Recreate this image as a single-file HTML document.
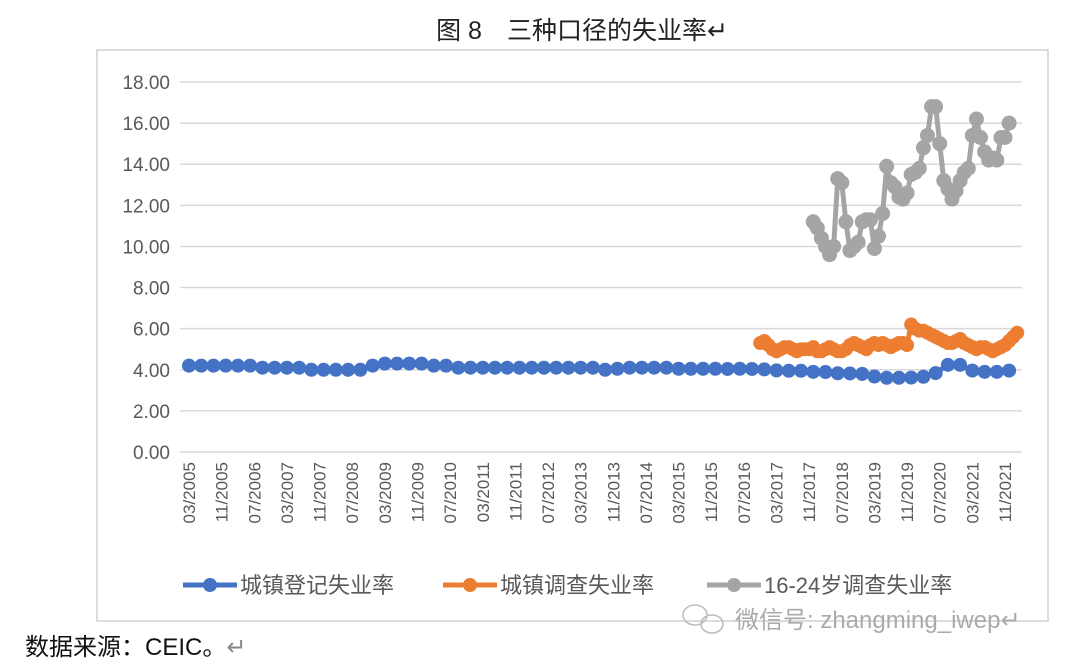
<!DOCTYPE html>
<html><head><meta charset="utf-8"><style>
body{margin:0;width:1080px;height:668px;background:#fff;overflow:hidden;font-family:"Liberation Sans","Noto Sans CJK SC",sans-serif;}
svg{position:absolute;left:0;top:0}
</style></head><body>
<svg id="c" width="1080" height="668">
<text x="582" y="39" font-size="25" text-anchor="middle" fill="#222" font-family="Liberation Sans,Noto Sans CJK SC,sans-serif">图 8　三种口径的失业率↵</text>
<rect x="97" y="50" width="951" height="571" fill="none" stroke="#d0d0d0" stroke-width="1.5"/>
<g id="grid"></g><g id="ylab"></g><g id="xlab"></g><g id="series"></g>
<g font-size="22" fill="#595959" font-family="Liberation Sans,Noto Sans CJK SC,sans-serif">
<g><line x1="183" y1="585" x2="237" y2="585" stroke="#4472c4" stroke-width="5"/><circle cx="210" cy="585" r="7" fill="#4472c4"/><text x="240" y="593">城镇登记失业率</text></g>
<g><line x1="443" y1="585" x2="497" y2="585" stroke="#ed7d31" stroke-width="5"/><circle cx="470" cy="585" r="7" fill="#ed7d31"/><text x="500" y="593">城镇调查失业率</text></g>
<g><line x1="707" y1="585" x2="761" y2="585" stroke="#a5a5a5" stroke-width="5"/><circle cx="734" cy="585" r="7" fill="#a5a5a5"/><text x="764" y="593">16-24岁调查失业率</text></g>
</g>
<text x="735" y="628" font-size="24" fill="#aaa" font-family="Liberation Sans,Noto Sans CJK SC,sans-serif">微信号: zhangming_iwep↵</text>
<g fill="none" stroke="#bbb" stroke-width="1.5"><ellipse cx="695" cy="615" rx="12" ry="10"/><ellipse cx="712" cy="624" rx="11" ry="9"/></g>
<text x="25" y="655" font-size="24" fill="#111" font-family="Liberation Sans,Noto Sans CJK SC,sans-serif">数据来源：CEIC。<tspan fill="#888">↵</tspan></text>
</svg>
<script>
const yTicks=[0,2,4,6,8,10,12,14,16,18];
const xTickLabels=["03/2005","11/2005","07/2006","03/2007","11/2007","07/2008","03/2009","11/2009","07/2010","03/2011","11/2011","07/2012","03/2013","11/2013","07/2014","03/2015","11/2015","07/2016","03/2017","11/2017","07/2018","03/2019","11/2019","07/2020","03/2021","11/2021"];
const registered=[4.2,4.2,4.2,4.2,4.2,4.2,4.1,4.1,4.1,4.1,4.0,4.0,4.0,4.0,4.0,4.2,4.3,4.3,4.3,4.3,4.2,4.2,4.1,4.1,4.1,4.1,4.1,4.1,4.1,4.1,4.1,4.1,4.1,4.1,4.0,4.05,4.1,4.1,4.1,4.1,4.05,4.05,4.05,4.05,4.04,4.05,4.04,4.02,3.97,3.95,3.95,3.9,3.89,3.83,3.82,3.8,3.67,3.61,3.61,3.62,3.66,3.84,4.24,4.24,3.96,3.9,3.9,3.96];
const registeredStart=0; // month index (0 = 03/2005), quarterly
const survey=[5.3,5.4,5.2,5.0,4.9,5.0,5.1,5.1,5.0,4.9,5.0,5.0,5.0,5.1,4.9,4.9,5.0,5.1,5.0,4.9,4.9,5.0,5.2,5.3,5.2,5.1,5.0,5.2,5.3,5.2,5.3,5.2,5.1,5.2,5.3,5.3,5.2,6.2,6.0,5.9,5.9,5.8,5.7,5.6,5.5,5.4,5.3,5.3,5.4,5.5,5.3,5.2,5.1,5.0,5.1,5.1,5.0,4.9,5.0,5.1,5.2,5.4,5.6,5.8];
const surveyStart=140;
const youth=[11.2,10.9,10.4,10.0,9.6,10.0,13.3,13.1,11.2,9.8,10.0,10.2,11.2,11.3,11.3,9.9,10.5,11.6,13.9,13.1,12.9,12.4,12.3,12.6,13.5,13.6,13.8,14.8,15.4,16.8,16.8,15.0,13.2,12.8,12.3,12.7,13.2,13.6,13.8,15.4,16.2,15.3,14.6,14.2,14.3,14.2,15.3,15.3,16.0];
const youthStart=153;
const NS="http://www.w3.org/2000/svg";
const X0=189,X1=1005,M=200,Y0=452,YT=82,YMAX=18;
const xs=m=>X0+(X1-X0)*m/M;
const ys=v=>Y0-(Y0-YT)*v/YMAX;
function mk(tag,attrs,parent){const e=document.createElementNS(NS,tag);for(const k in attrs)e.setAttribute(k,attrs[k]);parent.appendChild(e);return e;}
const grid=document.getElementById('grid'),ylab=document.getElementById('ylab'),xlab=document.getElementById('xlab'),ser=document.getElementById('series');
yTicks.forEach(v=>{
 const l=mk('line',{x1:180,x2:1022,y1:ys(v),y2:ys(v),stroke:'#d9d9d9','stroke-width':1.5},grid);
 
 
 const t=mk('text',{x:170,y:ys(v)+7,'text-anchor':'end','font-size':19,fill:'#595959'},ylab);
 t.textContent=v.toFixed(2);
 
 
});
xTickLabels.forEach((s,i)=>{
 const x=xs(i*8);
 const t=mk('text',{transform:`translate(${x+6},462) rotate(-90)`,'text-anchor':'end','font-size':17,fill:'#595959'},xlab);
 t.textContent=s;
 
 
});
function draw(vals,start,step,color,r,name){
 const g=mk('g',{},ser);
 
 
 const pts=vals.map((v,i)=>[xs(start+i*step),ys(v)]);
 mk('polyline',{points:pts.map(p=>p.join(',')).join(' '),fill:'none',stroke:color,'stroke-width':5,'stroke-linejoin':'round'},g);
 pts.forEach(p=>{const c=mk('circle',{cx:p[0],cy:p[1],r:r,fill:color},g);
  
  });
}
draw(registered,registeredStart,3,'#4472c4',7,'registered-series');
draw(survey,surveyStart,1,'#ed7d31',7,'survey-series');
draw(youth,youthStart,1,'#a5a5a5',7.5,'youth-series');
</script>
</body></html>
